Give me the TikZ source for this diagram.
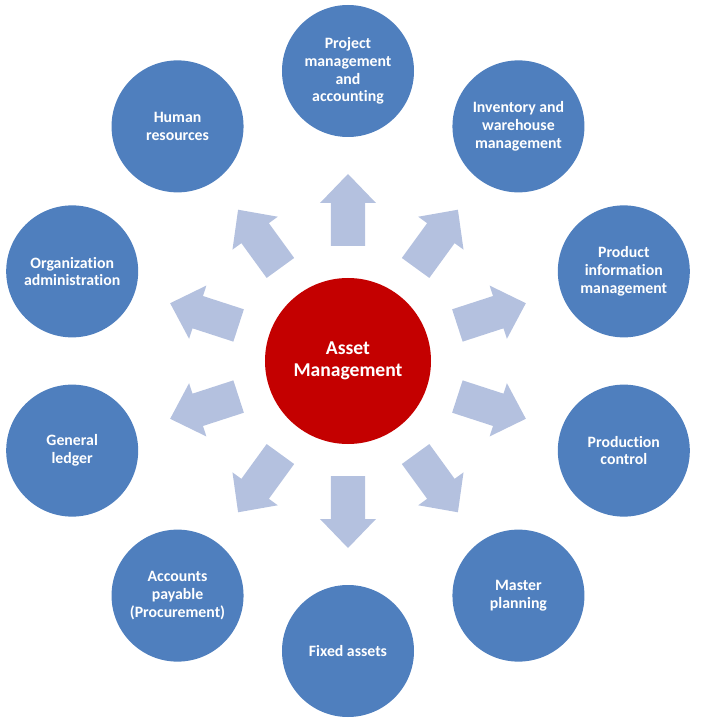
\documentclass[tikz,border=0pt]{standalone}
\usepackage{fontspec}
\setmainfont{Carlito}[Ligatures=NoCommon]
\usepackage{xcolor}
\definecolor{ringblue}{HTML}{4F7FBE}
\definecolor{hubred}{HTML}{C40000}
\definecolor{arrowblue}{HTML}{B4C1DF}
\tikzset{
  ringnode/.style={circle, fill=ringblue, minimum size=132pt, inner sep=0pt,
    text=white, align=center, font=\bfseries\fontsize{15.8}{17.7}\selectfont},
  hubnode/.style={circle, fill=hubred, minimum size=166pt, inner sep=0pt,
    text=white, align=center, font=\bfseries\fontsize{19.6}{21.5}\selectfont},
  blockarrow/.style={fill=arrowblue}
}

\begin{document}
\begin{tikzpicture}[x=1pt,y=1pt]
\useasboundingbox (-348,-359) rectangle (364,361);
% block arrows from the hub to the ring
\foreach \a in {90,54,...,-234}
  \fill[blockarrow, rotate=\a] (115,-17) -- (158,-17) -- (158,-28) -- (187,0)
    -- (158,28) -- (158,17) -- (115,17) -- cycle;
\node[hubnode] (hub) at (0,0) {Asset\\Management};
% ring of modules
\node[ringnode] (project) at (90:290) {Project\\management\\and\\accounting};
\node[ringnode] (inventory) at (54:290) {Inventory and\\warehouse\\management};
\node[ringnode] (product) at (18:290) {Product\\information\\management};
\node[ringnode] (production) at (-18:290) {Production\\control};
\node[ringnode] (master) at (-54:290) {Master\\planning};
\node[ringnode] (fixed) at (-90:290) {Fixed assets};
\node[ringnode] (payable) at (-126:290) {Accounts\\payable\\(Procurement)};
\node[ringnode] (ledger) at (-162:290) {General\\ledger};
\node[ringnode] (orgadmin) at (162:290) {Organization\\administration};
\node[ringnode] (human) at (126:290) {Human\\resources};
\end{tikzpicture}
\end{document}
